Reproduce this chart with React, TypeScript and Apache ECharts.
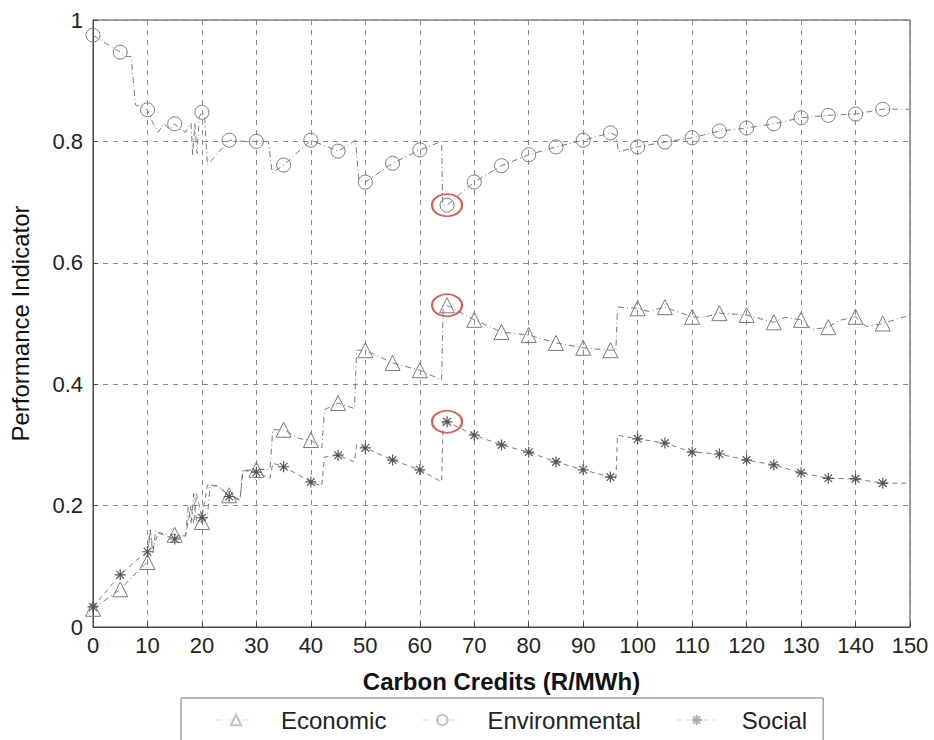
import React, { useEffect, useRef } from "react";
import * as echarts from "echarts";

const markerX = [0, 5, 10, 15, 20, 25, 30, 35, 40, 45, 50, 55, 60, 65, 70, 75, 80, 85, 90, 95, 100, 105, 110, 115, 120, 125, 130, 135, 140, 145];
const xTicks = [0, 10, 20, 30, 40, 50, 60, 70, 80, 90, 100, 110, 120, 130, 140, 150];
const yTicks = [0, 0.2, 0.4, 0.6, 0.8, 1];

const economicMarkers = [0.03, 0.062, 0.107, 0.152, 0.173, 0.217, 0.259, 0.325, 0.308, 0.369, 0.456, 0.435, 0.423, 0.53, 0.506, 0.486, 0.481, 0.468, 0.46, 0.456, 0.525, 0.527, 0.511, 0.517, 0.514, 0.502, 0.506, 0.494, 0.511, 0.5];
const environmentalMarkers = [0.975, 0.947, 0.852, 0.829, 0.848, 0.802, 0.8, 0.761, 0.802, 0.784, 0.733, 0.764, 0.786, 0.695, 0.733, 0.76, 0.778, 0.791, 0.802, 0.814, 0.791, 0.799, 0.806, 0.817, 0.822, 0.829, 0.839, 0.843, 0.845, 0.853];
const socialMarkers = [0.033, 0.086, 0.124, 0.145, 0.18, 0.215, 0.255, 0.264, 0.239, 0.283, 0.295, 0.275, 0.259, 0.338, 0.316, 0.3, 0.288, 0.272, 0.259, 0.247, 0.31, 0.303, 0.288, 0.285, 0.275, 0.267, 0.254, 0.245, 0.244, 0.237];

// intermediate (unmarked) points of each curve
const economicDetail = [[8, 0.09], [10.5, 0.16], [11, 0.12], [11.5, 0.16], [12, 0.155], [17, 0.15], [17.5, 0.2], [18, 0.17], [18.5, 0.22], [19, 0.175], [21, 0.18], [21.5, 0.234], [23, 0.232], [27, 0.21], [27.5, 0.258], [32.5, 0.26], [33, 0.325], [38, 0.31], [42, 0.295], [42.5, 0.358], [48, 0.36], [48.4, 0.456], [64, 0.407], [64.3, 0.53], [96, 0.456], [96.3, 0.527], [102, 0.52], [107, 0.52], [112, 0.51], [127, 0.51], [132, 0.49], [137, 0.505], [142, 0.495], [150, 0.514]];
const environmentalDetail = [[6, 0.94], [7, 0.94], [7.8, 0.86], [11, 0.83], [12, 0.815], [13, 0.83], [14, 0.82], [16, 0.82], [17, 0.815], [18, 0.83], [18.3, 0.777], [18.7, 0.83], [19.1, 0.78], [19.5, 0.84], [20.5, 0.84], [21, 0.761], [28, 0.8], [32.2, 0.8], [32.9, 0.748], [48.2, 0.802], [48.8, 0.736], [64, 0.8], [64.2, 0.695], [96, 0.81], [96.5, 0.783], [150, 0.853]];
const socialDetail = [[8, 0.11], [10.5, 0.16], [11, 0.13], [12, 0.155], [17, 0.15], [18, 0.2], [18.5, 0.17], [19, 0.22], [21, 0.234], [23, 0.232], [27, 0.209], [27.5, 0.258], [32.5, 0.245], [33, 0.27], [42, 0.232], [42.5, 0.28], [48, 0.272], [48.4, 0.3], [64, 0.239], [64.3, 0.341], [96, 0.244], [96.3, 0.316], [150, 0.237]];

const highlightX = 65;

function buildLine(markers: number[], detail: number[][]) {
  const pts = markerX
    .map((x, i) => ({ value: [x, markers[i]], marker: true }))
    .concat(detail.map((d) => ({ value: d, marker: false })));
  pts.sort((a, b) => a.value[0] - b.value[0]);
  return pts.map((p) => (p.marker ? { value: p.value } : { value: p.value, symbol: "none" }));
}

const LINE_COLOR = "#7a7a7a";
const STAR = "path://M5,0 L5,10 M0,5 L10,5 M1.5,1.5 L8.5,8.5 M1.5,8.5 L8.5,1.5";

export default function App() {
  const ref = useRef<HTMLDivElement>(null);
  useEffect(() => {
    if (!ref.current) return;
    const chart = echarts.init(ref.current, null, { renderer: "svg" });
    const hi = markerX.indexOf(highlightX);
    const font = "'Liberation Sans', Arial, Helvetica, sans-serif";
    const option: any = {
      animation: false,
      backgroundColor: "#ffffff",
      textStyle: { fontFamily: font },
      grid: { left: 93, right: 24, top: 20, bottom: 113, show: true, borderColor: "#444", borderWidth: 1 },
      xAxis: {
        type: "value",
        min: xTicks[0],
        max: xTicks[xTicks.length - 1],
        interval: 10,
        name: "Carbon Credits (R/MWh)",
        nameLocation: "middle",
        nameGap: 42,
        nameTextStyle: { fontSize: 24, fontWeight: "bold", color: "#111", fontFamily: font },
        axisLine: { show: true, lineStyle: { color: "#444" } },
        axisTick: { show: true, inside: true, length: 5, lineStyle: { color: "#444" } },
        axisLabel: { fontSize: 22, color: "#222", margin: 7, fontFamily: font },
        splitLine: { show: true, lineStyle: { color: "#8a8a8a", type: [5, 5], width: 1 } },
      },
      yAxis: {
        type: "value",
        min: yTicks[0],
        max: yTicks[yTicks.length - 1],
        interval: 0.2,
        name: "Performance Indicator",
        nameLocation: "middle",
        nameGap: 61,
        nameTextStyle: { fontSize: 24, color: "#111", fontFamily: font },
        axisLine: { show: true, lineStyle: { color: "#444" } },
        axisTick: { show: true, inside: true, length: 5, lineStyle: { color: "#444" } },
        axisLabel: {
          fontSize: 22,
          color: "#222",
          margin: 10,
          fontFamily: font,
          formatter: (v: number) => (v === 0 ? "0" : v === 1 ? "1" : v.toFixed(1)),
        },
        splitLine: { show: true, lineStyle: { color: "#8a8a8a", type: [5, 5], width: 1 } },
      },
      legend: {
        data: ["Economic", "Environmental", "Social"],
        left: 181,
        top: 698,
        orient: "horizontal",
        backgroundColor: "#fff",
        borderColor: "#777",
        borderWidth: 1,
        padding: [10, 16, 20, 34],
        itemGap: 35,
        itemWidth: 40,
        itemHeight: 13,
        lineStyle: { opacity: 0.15 },
        itemStyle: { opacity: 0.45 },
        textStyle: { fontSize: 24, color: "#222", fontFamily: font, padding: [0, 0, 0, 20] },
      },
      series: [
        {
          name: "Economic",
          type: "line",
          data: buildLine(economicMarkers, economicDetail),
          symbol: "triangle",
          symbolSize: 15,
          showSymbol: true,
          lineStyle: { color: LINE_COLOR, width: 1, type: [6, 3, 1, 3] },
          itemStyle: { color: "rgba(255,255,255,0)", borderColor: LINE_COLOR, borderWidth: 1 },
          z: 3,
        },
        {
          name: "Environmental",
          type: "line",
          data: buildLine(environmentalMarkers, environmentalDetail),
          symbol: "circle",
          symbolSize: 14,
          showSymbol: true,
          lineStyle: { color: LINE_COLOR, width: 1, type: [6, 3, 1, 3] },
          itemStyle: { color: "rgba(255,255,255,0)", borderColor: LINE_COLOR, borderWidth: 1 },
          z: 3,
        },
        {
          name: "Social",
          type: "line",
          data: buildLine(socialMarkers, socialDetail),
          symbol: STAR,
          symbolSize: 11,
          showSymbol: true,
          lineStyle: { color: LINE_COLOR, width: 1, type: [5, 4] },
          itemStyle: { color: "rgba(255,255,255,0)", borderColor: "#555", borderWidth: 1.2 },
          z: 3,
        },
        {
          name: "highlight",
          type: "scatter",
          data: [
            [highlightX, environmentalMarkers[hi]],
            [highlightX, economicMarkers[hi]],
            [highlightX, socialMarkers[hi]],
          ],
          symbol: "circle",
          symbolSize: [30, 22],
          itemStyle: { color: "rgba(255,255,255,0)", borderColor: "#c43b33", borderWidth: 2 },
          z: 5,
          silent: true,
        },
      ],
    };
    chart.setOption(option);
    return () => chart.dispose();
  }, []);
  return (
    <div
      ref={ref}
      style={{ position: "absolute", left: 0, top: 0, width: 934, height: 740, background: "#fff" }}
    />
  );
}
